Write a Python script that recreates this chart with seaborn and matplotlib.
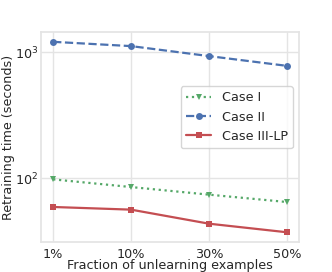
import matplotlib
matplotlib.use("Agg")
import matplotlib.pyplot as plt
import seaborn as sns
import pandas as pd

fractions = ["1%", "10%", "30%", "50%"]
case_i = [97.6, 84.8, 73.8, 64.5]
case_ii = [1207, 1116, 930, 778]
case_iii = [58.9, 56.1, 43.4, 37.1]

sns.set_theme(style="whitegrid")
plt.rcParams['font.family'] = ['DejaVu Sans']

fs = 9.2
fig, ax = plt.subplots(figsize=(3.32, 2.72), dpi=100)
x = list(range(len(fractions)))
df = pd.DataFrame({"x": x * 3,
                   "y": case_i + case_ii + case_iii,
                   "case": ["Case I"] * 4 + ["Case II"] * 4 + ["Case III-LP"] * 4})
pal = {"Case I": "#55A868", "Case II": "#4C72B0", "Case III-LP": "#C44E52"}
styles = {"Case I": (":", "v"), "Case II": ("--", "o"), "Case III-LP": ("-", "s")}
for name in ["Case I", "Case II", "Case III-LP"]:
    d = df[df.case == name]
    ls, mk = styles[name]
    sns.lineplot(data=d, x="x", y="y", ax=ax, color=pal[name], linestyle=ls,
                 marker=mk, markersize=5, linewidth=1.6, label=name,
                 markeredgewidth=0)
ax.set_yscale("log")
ax.set_ylim(31, 1442)
ax.set_xlim(-0.154, 3.154)
ax.set_xticks(x)
ax.set_xticklabels(fractions, fontsize=fs)
ax.tick_params(axis="both", which="both", length=0)
ax.tick_params(axis="y", labelsize=fs, pad=2)
ax.tick_params(axis="x", pad=4)
ax.set_xlabel("Fraction of unlearning examples", fontsize=fs, labelpad=-1)
ax.set_ylabel("Retraining time (seconds)", fontsize=fs, labelpad=0)
ax.legend(loc="upper right", bbox_to_anchor=(0.977, 0.743), borderaxespad=0,
          fontsize=fs, frameon=True)
ax.grid(True, which="major", color="#e4e4e4")
ax.grid(False, which="minor")
for s in ax.spines.values():
    s.set_color("#e4e4e4")
fig.subplots_adjust(left=0.124, right=0.9, top=0.882, bottom=0.11)
fig.savefig("out.png", dpi=100)
